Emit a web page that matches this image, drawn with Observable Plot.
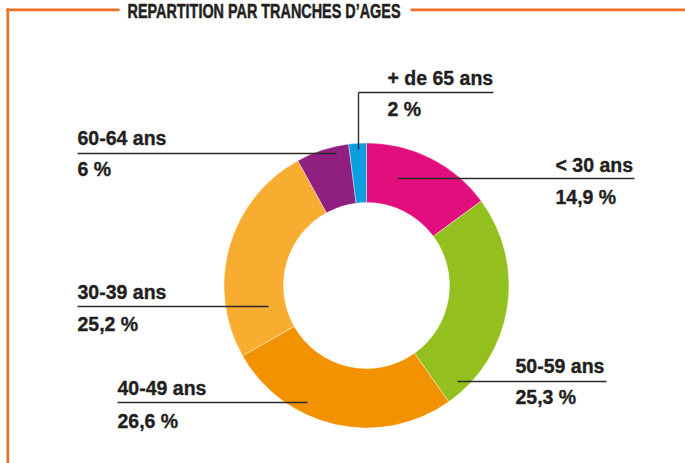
<!DOCTYPE html>
<html>
<head>
<meta charset="utf-8">
<script src="https://cdn.jsdelivr.net/npm/d3@7"></script>
<script src="https://cdn.jsdelivr.net/npm/@observablehq/plot@0.6"></script>
<style>
  html, body { margin: 0; padding: 0; background: #fff; }
  #chart svg { display: block; }
</style>
</head>
<body>
<div id="chart"></div>
<script>
// ---- data ----
const title = "REPARTITION PAR TRANCHES D\u2019AGES";
const categories = ["< 30 ans", "50-59 ans", "40-49 ans", "30-39 ans", "60-64 ans", "+ de 65 ans"];
const shares = [14.9, 25.3, 26.6, 25.2, 6, 2];
const shareLabels = ["14,9 %", "25,3 %", "26,6 %", "25,2 %", "6 %", "2 %"];

// ---- styles ----
const baseColors = ["#e30e7d", "#93c01f", "#f39200", "#f8ad30", "#8f1f80", "#0b9fe2"];
const lightColors = ["#ee62a5", "#b0cf5e", "#f7b14f", "#fbc86e", "#a95da0", "#45b7ec"];
const frameColor = "#ec6f24";
const inkColor = "#231f20";

// ---- layout (pixels) ----
const W = 685, H = 463;
const donutCenter = [366.5, 285.5];
const outerR = 142.5, innerR = 83;
// label layout: text x, name baseline, value baseline, leader y, leader x1, x2, optional elbow y
const labelX = [555, 515, 117, 77, 77, 387];
const nameBase = [171, 372, 394, 298, 144, 84];
const valueBase = [203, 403, 427, 330, 175, 115];
const leaderY = [178, 381, 402, 306, 153, 92];
const leaderX1 = [397, 457, 117, 77, 77, 358];
const leaderX2 = [634, 606, 307, 268, 336, 493];
const leaderElbow = [null, null, null, null, null, 149];
const titleX = 263.5, titleBase = 17.8, titleWidth = 273;

const rows = categories.map((c, i) => ({
  category: c, share: shares[i], label: shareLabels[i],
  tx: labelX[i], ny: nameBase[i], vy: valueBase[i],
  ly: leaderY[i], lx1: leaderX1[i], lx2: leaderX2[i], elbow: leaderElbow[i]
}));
const elbows = rows.filter(d => d.elbow != null);

function donut(index, scales) {
  const g = d3.create("svg:g");
  const cx = scales.x(donutCenter[0]), cy = scales.y(donutCenter[1]);
  const pie = d3.pie().sort(null).value(d => d.share).startAngle(0).endAngle(2 * Math.PI);
  const arcs = pie(rows);
  const arc = d3.arc().innerRadius(innerR).outerRadius(outerR);
  const defs = g.append("defs");
  arcs.forEach((a, i) => {
    const [mx, my] = arc.centroid(a);
    const grad = defs.append("radialGradient")
      .attr("id", "sliceGrad" + i)
      .attr("gradientUnits", "userSpaceOnUse")
      .attr("cx", cx + mx).attr("cy", cy + my).attr("r", 85);
    grad.append("stop").attr("offset", 0).attr("stop-color", lightColors[i]);
    grad.append("stop").attr("offset", 0.4).attr("stop-color", d3.interpolateRgb(lightColors[i], baseColors[i])(0.35));
    grad.append("stop").attr("offset", 1).attr("stop-color", baseColors[i]);
  });
  g.append("g")
    .attr("transform", `translate(${cx},${cy})`)
    .selectAll("path")
    .data(arcs)
    .join("path")
    .attr("d", arc)
    .attr("fill", (d, i) => `url(#sliceGrad${i})`)
    .attr("stroke", "#ffffff")
    .attr("stroke-opacity", 0.55)
    .attr("stroke-width", 0.7);
  return g.node();
}

const plot = Plot.plot({
  width: W,
  height: H,
  margin: 0,
  x: { domain: [0, W], range: [0, W], axis: null },
  y: { domain: [0, H], range: [0, H], axis: null },
  style: { background: "#fff", fontFamily: "'Liberation Sans', Arial, sans-serif" },
  marks: [
    // frame
    Plot.link([{ x1: 7.3, y1: 8, x2: 7.3, y2: H }], { x1: "x1", y1: "y1", x2: "x2", y2: "y2", stroke: frameColor, strokeWidth: 2.7 }),
    Plot.link([{ x1: 6, y1: 9.3, x2: 119, y2: 9.3 }, { x1: 410, y1: 9.3, x2: W, y2: 9.3 }],
      { x1: "x1", y1: "y1", x2: "x2", y2: "y2", stroke: frameColor, strokeWidth: 2.7 }),
    Plot.text([title], { x: titleX, y: titleBase, text: d => d, textAnchor: "middle", lineAnchor: "bottom",
      fontWeight: "bold", fontSize: 19.5, fill: inkColor, stroke: inkColor, strokeWidth: 0.5 }),
    // donut
    donut,
    // leaders
    Plot.link(rows, { x1: "lx1", x2: "lx2", y1: "ly", y2: "ly", stroke: "#2b2a2a", strokeWidth: 1.4 }),
    Plot.link(elbows, { x1: "lx1", x2: "lx1", y1: "ly", y2: "elbow", stroke: "#2b2a2a", strokeWidth: 1.4 }),
    // labels
    Plot.text(rows, { x: "tx", y: "ny", text: "category", textAnchor: "start", lineAnchor: "bottom",
      fontWeight: "bold", fontSize: 19.5, fill: inkColor, stroke: inkColor, strokeWidth: 0.35 }),
    Plot.text(rows, { x: "tx", y: "vy", text: "label", textAnchor: "start", lineAnchor: "bottom",
      fontWeight: "bold", fontSize: 19.5, fill: inkColor, stroke: inkColor, strokeWidth: 0.35 })
  ]
});

// condense the title to the reference width
d3.select(plot).selectAll("text")
  .filter(function () { return this.textContent === title; })
  .attr("textLength", titleWidth).attr("lengthAdjust", "spacingAndGlyphs");

document.getElementById("chart").appendChild(plot);
</script>
</body>
</html>
